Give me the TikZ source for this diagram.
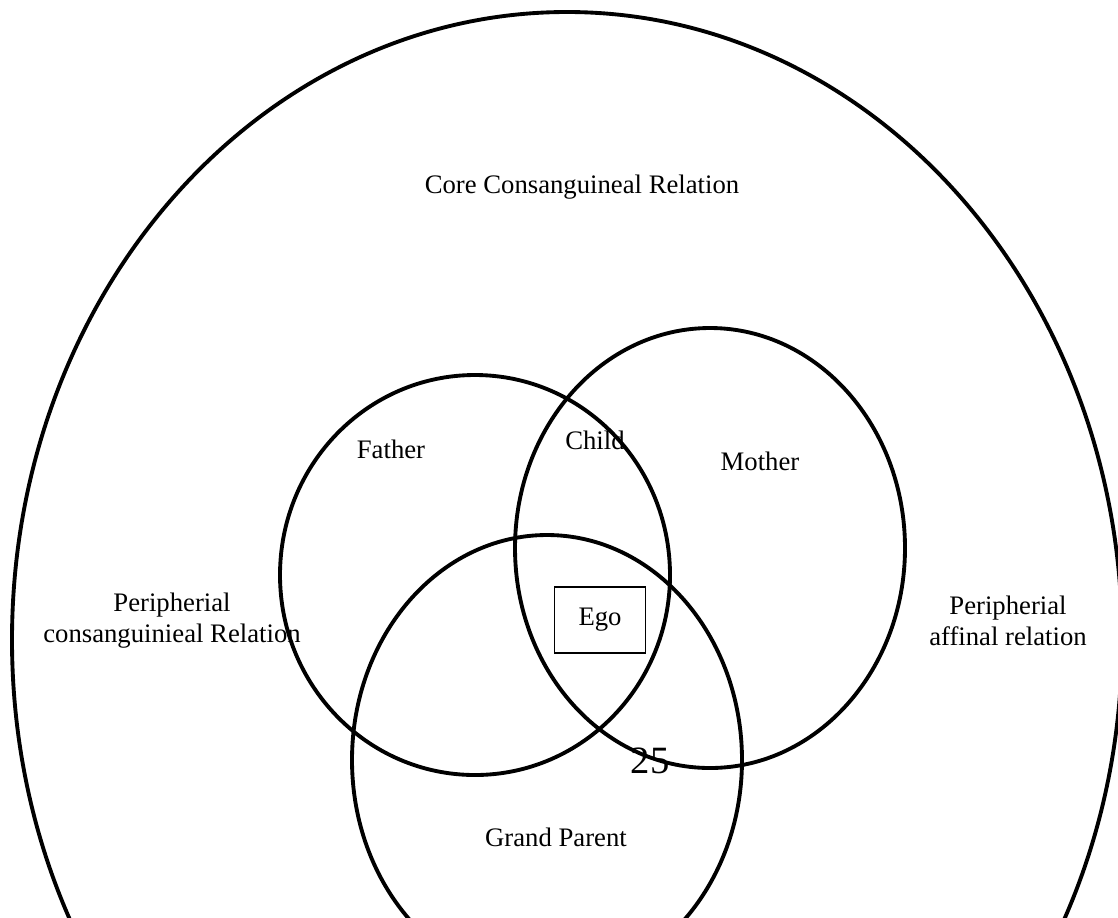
\documentclass[tikz,border=0pt]{standalone}
\usepackage{fontspec}
\setmainfont{Liberation Serif}
\usetikzlibrary{positioning}

\begin{document}
\begin{tikzpicture}[x=0.02cm,y=-0.02cm,font=\fontsize{15.2}{17.6}\selectfont]
\tikzset{ring/.style={line width=2.2pt}}
\tikzset{label/.style={align=center,inner sep=0pt}}
\tikzset{egobox/.style={draw,line width=0.6pt,minimum width=1.82cm,minimum height=1.32cm,inner sep=0pt}}
\useasboundingbox (0,0) rectangle (1118,917);
\clip (0,0) rectangle (1118,917);
% circles
\draw[ring] (567,640) ellipse [x radius=555, y radius=628];
\draw[ring] (475,575) ellipse [x radius=195, y radius=200];
\draw[ring] (710,548) ellipse [x radius=195, y radius=220];
\draw[ring] (547,760) ellipse [x radius=195, y radius=225];
% labels
\node[label] (core)   at (582,187) {Core Consanguineal Relation};
\node[label] (father) at (391,449) {Father};
\node[label] (child)  at (595,440) {Child};
\node[label] (mother) at (760,461) {Mother};
\node[label] (pcons)  at (172,621) {Peripherial\\consanguinieal Relation};
\node[label] (paff)   at (1008,621) {Peripherial\\affinal relation};
\node[egobox] (ego)   at (600,620) {Ego};
\node[label,font=\fontsize{22}{26}\selectfont] (num) at (650,761) {25};
\node[label] (gp)     at (556,837) {Grand Parent};
\end{tikzpicture}
\end{document}
